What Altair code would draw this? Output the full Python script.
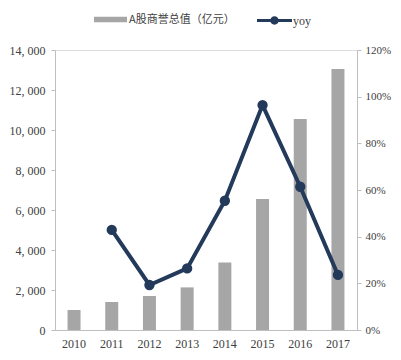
import altair as alt
import pandas as pd

years = ["2010", "2011", "2012", "2013", "2014", "2015", "2016", "2017"]
goodwill = [1000, 1400, 1700, 2130, 3370, 6550, 10550, 13050]
yoy = [None, 0.429, 0.193, 0.264, 0.554, 0.964, 0.614, 0.236]
bar_label = "A股商誉总值（亿元）"
line_label = "yoy"

df = pd.DataFrame({"year": years, "goodwill": goodwill, "yoy": yoy})
df["s1"] = bar_label
df["s2"] = line_label

BAR = "#a6a6a6"
NAVY = "#243a5b"
AX = "#bfbfbf"
TXT = "#404040"
SERIF = "Liberation Serif"
CJK = "Noto Sans CJK SC"

xenc = alt.X(
    "year:N",
    sort=years,
    scale=alt.Scale(paddingInner=0.65, paddingOuter=0.33),
    axis=alt.Axis(title=None, labelAngle=0, domainColor=AX, ticks=False,
                  labelFont=SERIF, labelFontSize=12, labelColor=TXT, labelPadding=8),
)

bars = alt.Chart(df).mark_bar(size=13).encode(
    x=xenc,
    y=alt.Y("goodwill:Q", scale=alt.Scale(domain=[0, 14000]),
            axis=alt.Axis(title=None, values=list(range(0, 14001, 2000)),
                          labelExpr="replace(format(datum.value, ',.0f'), ',', ', ')",
                          grid=False, domainColor=AX, tickColor=AX, tickSize=4,
                          labelFont=SERIF, labelFontSize=12, labelColor=TXT, labelPadding=6)),
    color=alt.Color("s1:N", scale=alt.Scale(range=[BAR]),
                    legend=alt.Legend(title=None, orient="none", legendX=39, legendY=-47,
                                      symbolType="M-1,-0.17H1V0.17H-1Z", symbolSize=1089,
                                      symbolStrokeWidth=0, labelFont=CJK, labelFontSize=11,
                                      labelColor=TXT, labelOffset=2)),
)

yoy_y = alt.Y("yoy:Q", scale=alt.Scale(domain=[0, 1.2]),
              axis=alt.Axis(title=None, orient="right", values=[0, 0.2, 0.4, 0.6, 0.8, 1.0, 1.2],
                            labelExpr="format(datum.value, '.0%')",
                            grid=False, domainColor=AX, tickColor=AX, tickSize=4,
                            labelFont=SERIF, labelFontSize=11, labelColor=TXT, labelPadding=4))

line = alt.Chart(df).transform_filter("datum.yoy != null").mark_line(
    strokeWidth=4,
    point=alt.OverlayMarkDef(filled=True, size=70, color=NAVY, opacity=1),
).encode(
    x=xenc,
    y=yoy_y,
    stroke=alt.Stroke("s2:N", scale=alt.Scale(range=[NAVY]),
                      legend=alt.Legend(title=None, orient="none", legendX=202, legendY=-47,
                                        symbolType="M-1,-0.09H1V0.09H-1Z M-0.24,0A0.24,0.24,0,1,1,0.24,0A0.24,0.24,0,1,1,-0.24,0Z",
                                        symbolSize=1225, symbolFillColor=NAVY, symbolStrokeWidth=0,
                                        labelFont=SERIF, labelFontSize=12, labelColor=TXT, labelOffset=1)),
)

chart = (
    alt.layer(bars, line)
    .resolve_scale(y="independent", color="independent")
    .properties(width=302, height=280,
                autosize=alt.AutoSizeParams(type="none"),
                padding={"left": 47, "top": 42, "right": 36, "bottom": 22})
    .configure_view(stroke=None)
    .configure(background="white")
)

chart.save("out.html", embed_options={"renderer": "svg", "actions": False})
